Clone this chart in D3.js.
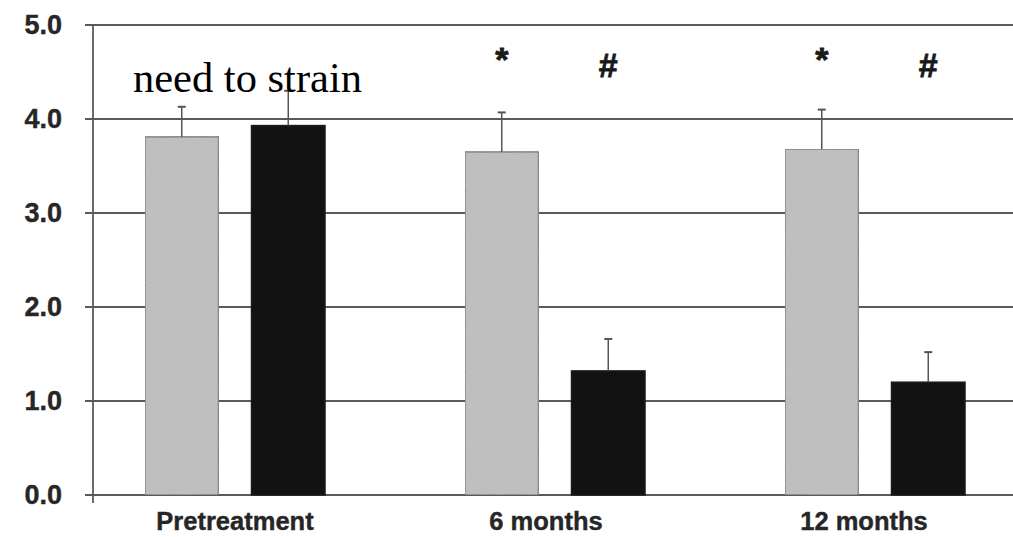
<!DOCTYPE html>
<html>
<head>
<meta charset="utf-8">
<script src="https://cdn.jsdelivr.net/npm/d3@7"></script>
<style>
  html, body { margin: 0; padding: 0; background: #fff; }
  svg { display: block; }
</style>
</head>
<body>
<svg id="chart" width="1013" height="537"></svg>
<script>
// Group labels along the x axis
const categories = ["Pretreatment", "6 months", "12 months"];

// Light-grey series: means and error (upper SD)
const greyValues = [3.81, 3.65, 3.68];
const greyErrors = [0.32, 0.42, 0.42];

// Black series: means and error (upper SD)
const blackValues = [3.93, 1.32, 1.20];
const blackErrors = [0.37, 0.34, 0.32];

// Significance marks above each bar
const greyMarks = ["", "*", "*"];
const blackMarks = ["", "#", "#"];

// Y axis ticks
const yTicks = [0, 1, 2, 3, 4, 5];
const yTickLabels = ["0.0", "1.0", "2.0", "3.0", "4.0", "5.0"];

const noteText = "need to strain";

const svg = d3.select("#chart");

const plot = { left: 93, right: 1013, top: 25, bottom: 495 };

const y = d3.scaleLinear().domain([0, 5]).range([plot.bottom, plot.top]);

const x0 = d3.scaleBand()
  .domain(categories)
  .range([75, 1035])
  .padding(0);

const pairWidth = 180;
const x1 = d3.scaleBand()
  .domain(["grey", "black"])
  .range([0, pairWidth])
  .paddingInner(0.31)
  .paddingOuter(0);

const rows = categories.map((c, i) => ({
  cat: c,
  bars: [
    { key: "grey", v: greyValues[i], e: greyErrors[i], mark: greyMarks[i] },
    { key: "black", v: blackValues[i], e: blackErrors[i], mark: blackMarks[i] }
  ]
}));

const barX = (cat, key) => x0(cat) + x0.bandwidth() / 2 - pairWidth / 2 + x1(key);

// Gridlines (with outward tick stubs on the left)
const gridColor = "#5a5a5a";
svg.append("g")
  .selectAll("line")
  .data(yTicks)
  .join("line")
  .attr("x1", plot.left - 8)
  .attr("x2", plot.right)
  .attr("y1", d => y(d))
  .attr("y2", d => y(d))
  .attr("stroke", gridColor)
  .attr("stroke-width", 1.8);

// Y axis line
svg.append("line")
  .attr("x1", plot.left).attr("x2", plot.left)
  .attr("y1", y(5)).attr("y2", y(0) + 8)
  .attr("stroke", gridColor)
  .attr("stroke-width", 1.8);

// Y tick labels
svg.append("g")
  .selectAll("text")
  .data(yTicks)
  .join("text")
  .attr("x", 62)
  .attr("y", d => y(d) + 9)
  .attr("text-anchor", "end")
  .attr("font-family", "'Liberation Sans', Arial, sans-serif")
  .attr("font-weight", "bold")
  .attr("font-size", 27)
  .attr("fill", "#262626")
  .attr("stroke", "#262626")
  .attr("stroke-width", 0.4)
  .text((d, i) => yTickLabels[i]);

// Grain for the grey bars
const defs = svg.append("defs");
const filt = defs.append("filter").attr("id", "grain").attr("x", 0).attr("y", 0).attr("width", 1).attr("height", 1);
filt.append("feTurbulence").attr("type", "fractalNoise").attr("baseFrequency", 0.9).attr("numOctaves", 1).attr("seed", 3).attr("result", "noise");
filt.append("feColorMatrix").attr("in", "noise").attr("type", "matrix")
  .attr("values", "0 0 0 0 0.68  0 0 0 0 0.68  0 0 0 0 0.68  0 0 0 0.4 0").attr("result", "tint");
filt.append("feComposite").attr("in", "tint").attr("in2", "SourceGraphic").attr("operator", "atop");

const groups = svg.append("g")
  .selectAll("g")
  .data(rows)
  .join("g");

// Bars
groups.selectAll("rect")
  .data(d => d.bars.map(b => ({ ...b, cat: d.cat })))
  .join("rect")
  .attr("x", d => barX(d.cat, d.key))
  .attr("width", x1.bandwidth())
  .attr("y", d => y(d.v))
  .attr("height", d => y(0) - y(d.v))
  .attr("fill", d => d.key === "grey" ? "#b8b8b8" : "#121212")
  .attr("stroke", d => d.key === "grey" ? "#666" : "#1a1a1a")
  .attr("stroke-width", 1.5)
  .attr("filter", d => d.key === "grey" ? "url(#grain)" : null);

// Error bars: stem + cap
const errG = groups.selectAll("g.err")
  .data(d => d.bars.map(b => ({ ...b, cat: d.cat })))
  .join("g")
  .attr("class", "err");

errG.append("line")
  .attr("x1", d => barX(d.cat, d.key) + x1.bandwidth() / 2)
  .attr("x2", d => barX(d.cat, d.key) + x1.bandwidth() / 2)
  .attr("y1", d => y(d.v))
  .attr("y2", d => y(d.v + d.e))
  .attr("stroke", "#555")
  .attr("stroke-width", 1.5);

errG.append("line")
  .attr("x1", d => barX(d.cat, d.key) + x1.bandwidth() / 2 - 4)
  .attr("x2", d => barX(d.cat, d.key) + x1.bandwidth() / 2 + 4)
  .attr("y1", d => y(d.v + d.e))
  .attr("y2", d => y(d.v + d.e))
  .attr("stroke", "#555")
  .attr("stroke-width", 2);

// Significance marks
groups.selectAll("text.mark")
  .data(d => d.bars.filter(b => b.mark).map(b => ({ ...b, cat: d.cat })))
  .join("text")
  .attr("class", "mark")
  .attr("x", d => barX(d.cat, d.key) + x1.bandwidth() / 2)
  .attr("y", d => d.key === "grey" ? y(5) + 46 : y(5) + 52)
  .attr("text-anchor", "middle")
  .attr("font-family", "'Liberation Sans', Arial, sans-serif")
  .attr("font-weight", "bold")
  .attr("font-size", 34)
  .attr("fill", "#1a1a1a")
  .attr("stroke", "#1a1a1a")
  .attr("stroke-width", 0.8)
  .text(d => d.mark);

// Category labels
const labelNudge = [0, -9, -11];
svg.append("g")
  .selectAll("text")
  .data(categories)
  .join("text")
  .attr("x", (d, i) => x0(d) + x0.bandwidth() / 2 + labelNudge[i])
  .attr("y", 530)
  .attr("text-anchor", "middle")
  .attr("font-family", "'Liberation Sans', Arial, sans-serif")
  .attr("font-weight", "bold")
  .attr("font-size", 25.5)
  .attr("fill", "#262626")
  .attr("stroke", "#262626")
  .attr("stroke-width", 0.4)
  .text(d => d);

// Overlaid note
svg.append("text")
  .attr("x", 133)
  .attr("y", 92)
  .attr("font-family", "'Liberation Serif', 'Times New Roman', serif")
  .attr("font-size", 42.5)
  .attr("fill", "#000")
  .text(noteText);
</script>
</body>
</html>
